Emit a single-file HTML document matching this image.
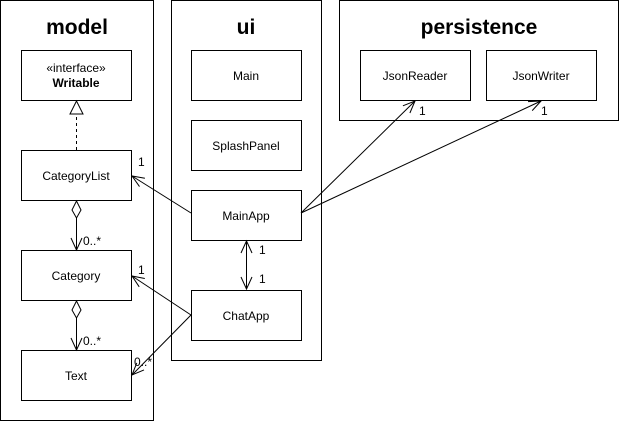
<!DOCTYPE html>
<html><head><style>
body{margin:0;background:#fff}
svg text{font-family:"Liberation Sans",Arial,sans-serif}
</style></head><body>
<svg width="619" height="421" viewBox="0 0 619 421" xmlns="http://www.w3.org/2000/svg">
<g fill="#fff" stroke="#000" stroke-width="1">
<rect x="0.5" y="0.5" width="153" height="420"/>
<rect x="171.5" y="0.5" width="150" height="360"/>
<rect x="339.5" y="0.5" width="279" height="120"/>
<rect x="21.5" y="50.5" width="110" height="50"/>
<rect x="21.5" y="150.5" width="110" height="50"/>
<rect x="21.5" y="250.5" width="110" height="50"/>
<rect x="21.5" y="350.5" width="110" height="50"/>
<rect x="191.5" y="50.5" width="110" height="50"/>
<rect x="191.5" y="120.5" width="110" height="50"/>
<rect x="191.5" y="190.5" width="110" height="50"/>
<rect x="191.5" y="290.5" width="110" height="50"/>
<rect x="360.5" y="50.5" width="110" height="50"/>
<rect x="486.5" y="50.5" width="110" height="50"/>
</g>
<g font-weight="bold" font-size="21" text-anchor="middle">
<text x="77" y="34">model</text>
<text x="246" y="34">ui</text>
<text x="479" y="34">persistence</text>
</g>
<g font-size="12" text-anchor="middle">
<text x="76" y="72">«interface»</text>
<text x="76" y="87" font-weight="bold">Writable</text>
<text x="76" y="180">CategoryList</text>
<text x="76" y="280">Category</text>
<text x="76" y="380">Text</text>
<text x="246" y="80">Main</text>
<text x="246" y="150">SplashPanel</text>
<text x="246" y="220">MainApp</text>
<text x="246" y="320">ChatApp</text>
<text x="415" y="80">JsonReader</text>
<text x="541" y="80">JsonWriter</text>
</g>
<g fill="none" stroke="#000" stroke-width="1">
<line x1="76.5" y1="150" x2="76.5" y2="114" stroke-dasharray="3,3"/>
<polygon points="76.5,101 70,114 83,114" fill="#fff"/>
<polygon points="76.5,201 72,210 76.5,218 81,210" fill="#fff"/>
<line x1="76.5" y1="218" x2="76.5" y2="250"/>
<polyline points="71,238 76.5,250 82,238"/>
<polygon points="76.5,301 72,310 76.5,318 81,310" fill="#fff"/>
<line x1="76.5" y1="318" x2="76.5" y2="350"/>
<polyline points="71,338 76.5,350 82,338"/>
<line x1="191" y1="213" x2="132" y2="176"/>
<polyline points="144.9,178.2 132,176 139.5,186.6"/>
<line x1="191" y1="315" x2="132" y2="276"/>
<polyline points="144.8,278.5 132,276 139.2,286.8"/>
<line x1="191" y1="315" x2="132" y2="375"/>
<polyline points="144,369.9 132,375 136.8,362.9"/>
<line x1="246.5" y1="241" x2="246.5" y2="289"/>
<polyline points="241,253 246.5,241 252,253"/>
<polyline points="241,277 246.5,289 252,277"/>
<line x1="301" y1="213" x2="415" y2="101"/>
<polyline points="409.9,113 415,101 402.9,105.8"/>
<line x1="301" y1="213" x2="541" y2="101"/>
<polyline points="532.2,110.6 541,101 528,101.6"/>
</g>
<g font-size="12">
<text x="138" y="166">1</text>
<text x="83" y="245">0..*</text>
<text x="138" y="274">1</text>
<text x="83" y="345">0..*</text>
<text x="134" y="366">0..*</text>
<text x="259" y="254">1</text>
<text x="259" y="283">1</text>
<text x="419" y="115">1</text>
<text x="541" y="115">1</text>
</g>
</svg>
</body></html>
